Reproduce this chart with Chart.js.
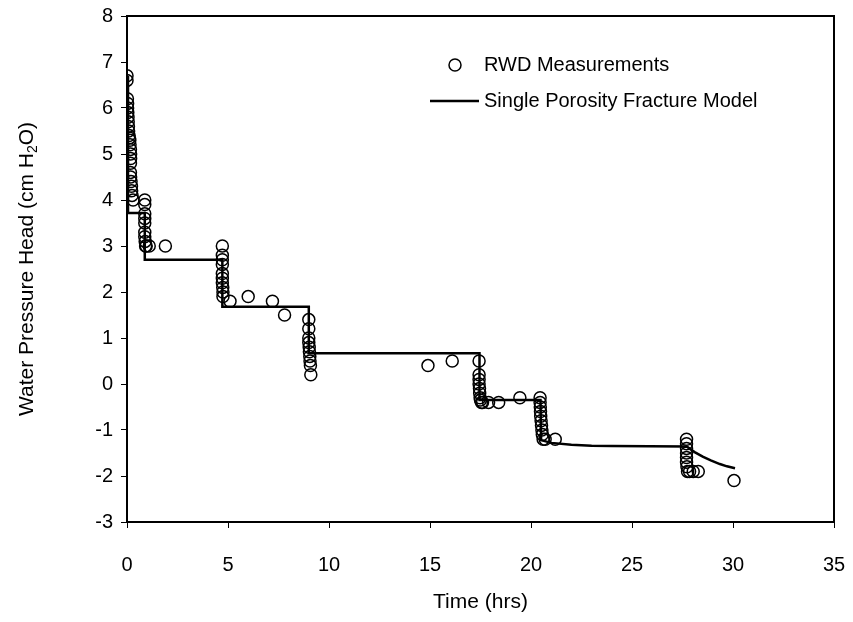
<!DOCTYPE html>
<html>
<head>
<meta charset="utf-8">
<script src="https://cdn.jsdelivr.net/npm/chart.js@4.4.1/dist/chart.umd.min.js"></script>
<style>
  html, body { margin: 0; padding: 0; background: #fff; }
  #wrap { width: 853px; height: 622px; }
</style>
</head>
<body>
<div id="wrap"><canvas id="chart"></canvas></div>
<script>
// RWD measurements (time in hrs, pressure head in cm H2O)
var rwdTime = [
  0, 0, 0.02, 0.03, 0.03, 0.04, 0.05, 0.06, 0.07, 0.08, 0.1, 0.12, 0.14, 0.15, 0.17, 0.18, 0.18, 0.17, 0.17, 0.18, 0.2, 0.22, 0.23, 0.25, 0.3,
  0.88, 0.88, 0.88, 0.88, 0.88, 0.88, 0.88, 0.9, 0.92, 0.95, 1.1, 1.9,
  4.72, 4.72, 4.72, 4.72, 4.72, 4.72, 4.72, 4.74, 4.75, 4.75, 5.1, 6.0, 7.2, 7.8,
  9.0, 9.0, 9.0, 9.0, 9.02, 9.03, 9.05, 9.06, 9.08, 9.1,
  14.9, 16.1,
  17.43, 17.43, 17.43, 17.43, 17.45, 17.46, 17.48, 17.5, 17.55, 17.6, 17.9, 18.4, 19.45,
  20.45, 20.45, 20.46, 20.47, 20.48, 20.5, 20.52, 20.54, 20.56, 20.6, 20.7, 21.2,
  27.7, 27.7, 27.7, 27.7, 27.7, 27.7, 27.72, 27.75, 27.85, 28.03, 28.28,
  30.05
];
var rwdHead = [
  6.7, 6.6, 6.2, 6.1, 6.0, 5.9, 5.8, 5.7, 5.6, 5.5, 5.4, 5.35, 5.3, 5.2, 5.1, 5.0, 4.9, 4.8, 4.6, 4.5, 4.4, 4.3, 4.2, 4.1, 4.0,
  4.0, 3.9, 3.7, 3.6, 3.5, 3.3, 3.2, 3.1, 3.0, 3.0, 3.0, 3.0,
  3.0, 2.8, 2.7, 2.6, 2.4, 2.3, 2.2, 2.1, 2.0, 1.9, 1.8, 1.9, 1.8, 1.5,
  1.4, 1.2, 1.0, 0.9, 0.8, 0.7, 0.6, 0.5, 0.4, 0.2,
  0.4, 0.5,
  0.5, 0.2, 0.1, 0.0, -0.1, -0.2, -0.3, -0.35, -0.4, -0.4, -0.4, -0.4, -0.3,
  -0.3, -0.4, -0.5, -0.6, -0.7, -0.8, -0.9, -1.0, -1.1, -1.2, -1.2, -1.2,
  -1.2, -1.3, -1.4, -1.5, -1.6, -1.7, -1.8, -1.9, -1.9, -1.9, -1.9,
  -2.1
];

// single porosity fracture model
var modelTime = [0.05, 0.05, 0.88, 0.88, 4.72, 4.72, 9.0, 9.0, 17.45, 17.45, 20.47, 20.5, 21.0, 22.0, 23.0, 24.0, 27.7, 28.1, 28.5, 28.9, 29.35, 29.7, 30.1];
var modelHead = [6.7, 3.72, 3.72, 2.7, 2.7, 1.68, 1.68, 0.67, 0.67, -0.35, -0.35, -1.22, -1.28, -1.32, -1.34, -1.35, -1.36, -1.48, -1.58, -1.66, -1.74, -1.79, -1.83];

var xTicks = [0, 5, 10, 15, 20, 25, 30, 35];
var yTicks = [-3, -2, -1, 0, 1, 2, 3, 4, 5, 6, 7, 8];

var FONT = 'Liberation Sans, Arial, sans-serif';

function toPoints(xs, ys) {
  var pts = [];
  for (var i = 0; i < xs.length; i++) pts.push({ x: xs[i], y: ys[i] });
  return pts;
}

// box around the plot, the rotated y title with subscript, and the legend
var decorations = {
  id: 'decorations',
  afterDraw: function(chart) {
    var ctx = chart.ctx, a = chart.chartArea;
    ctx.save();
    ctx.strokeStyle = '#000';
    ctx.lineWidth = 2;
    ctx.strokeRect(a.left, a.top, a.right - a.left, a.bottom - a.top);

    // y axis title
    ctx.translate(27, (a.top + a.bottom) / 2);
    ctx.rotate(-Math.PI / 2);
    ctx.fillStyle = '#000';
    ctx.textBaseline = 'middle';
    var big = '21px ' + FONT, small = '14px ' + FONT;
    var p1 = 'Water Pressure Head (cm H', p2 = '2', p3 = 'O)';
    ctx.font = big;
    var w1 = ctx.measureText(p1).width, w3 = ctx.measureText(p3).width;
    ctx.font = small;
    var w2 = ctx.measureText(p2).width;
    var x = -(w1 + w2 + w3) / 2;
    ctx.font = big;
    ctx.fillText(p1, x, 0);
    ctx.font = small;
    ctx.fillText(p2, x + w1, 6);
    ctx.font = big;
    ctx.fillText(p3, x + w1 + w2, 0);
    ctx.restore();

    // legend
    ctx.save();
    ctx.strokeStyle = '#000';
    ctx.fillStyle = '#000';
    ctx.lineWidth = 1.5;
    ctx.beginPath();
    ctx.arc(455, 65, 6, 0, Math.PI * 2);
    ctx.stroke();
    ctx.lineWidth = 2.5;
    ctx.beginPath();
    ctx.moveTo(430, 101);
    ctx.lineTo(479, 101);
    ctx.stroke();
    ctx.font = '20px ' + FONT;
    ctx.textBaseline = 'middle';
    ctx.fillText(chart.data.datasets[1].label, 484, 65);
    ctx.fillText(chart.data.datasets[0].label, 484, 101);
    ctx.restore();
  }
};

new Chart(document.getElementById('chart'), {
  type: 'scatter',
  data: {
    datasets: [{
      label: 'Single Porosity Fracture Model',
      data: toPoints(modelTime, modelHead),
      showLine: true,
      borderColor: '#000',
      borderWidth: 2.5,
      pointRadius: 0,
      tension: 0,
      order: 2
    }, {
      label: 'RWD Measurements',
      data: toPoints(rwdTime, rwdHead),
      pointStyle: 'circle',
      pointRadius: 6,
      pointBorderWidth: 1.5,
      borderColor: '#000',
      backgroundColor: 'rgba(0,0,0,0)',
      order: 1
    }]
  },
  options: {
    responsive: true,
    maintainAspectRatio: false,
    animation: false,
    layout: { padding: { top: 16, right: 19, left: 0, bottom: 0 } },
    plugins: { legend: { display: false }, tooltip: { enabled: false } },
    scales: {
      x: {
        type: 'linear',
        min: 0, max: 35,
        afterBuildTicks: function(scale) {
          scale.ticks = xTicks.map(function(v) { return { value: v }; });
        },
        afterFit: function(scale) {
          scale.height = 100;
          scale.paddingLeft = 0;
          scale.paddingRight = 0;
        },
        ticks: { color: '#000', font: { family: FONT, size: 20 }, padding: 25, maxRotation: 0 },
        grid: { drawOnChartArea: false, drawTicks: true, tickLength: 6, color: '#000', tickWidth: 1 },
        border: { display: true, color: '#000', width: 2 },
        title: { display: true, text: 'Time (hrs)', color: '#000', font: { family: FONT, size: 21 }, padding: { top: 0, bottom: 7 } }
      },
      y: {
        type: 'linear',
        min: -3, max: 8,
        afterBuildTicks: function(scale) {
          scale.ticks = yTicks.map(function(v) { return { value: v }; });
        },
        afterFit: function(scale) {
          scale.width = 127;
          scale.paddingTop = 0;
          scale.paddingBottom = 0;
        },
        ticks: { color: '#000', font: { family: FONT, size: 20 }, padding: 8 },
        grid: { drawOnChartArea: false, drawTicks: true, tickLength: 6, color: '#000', tickWidth: 1 },
        border: { display: true, color: '#000', width: 2 }
      }
    }
  },
  plugins: [decorations]
});
</script>
</body>
</html>
